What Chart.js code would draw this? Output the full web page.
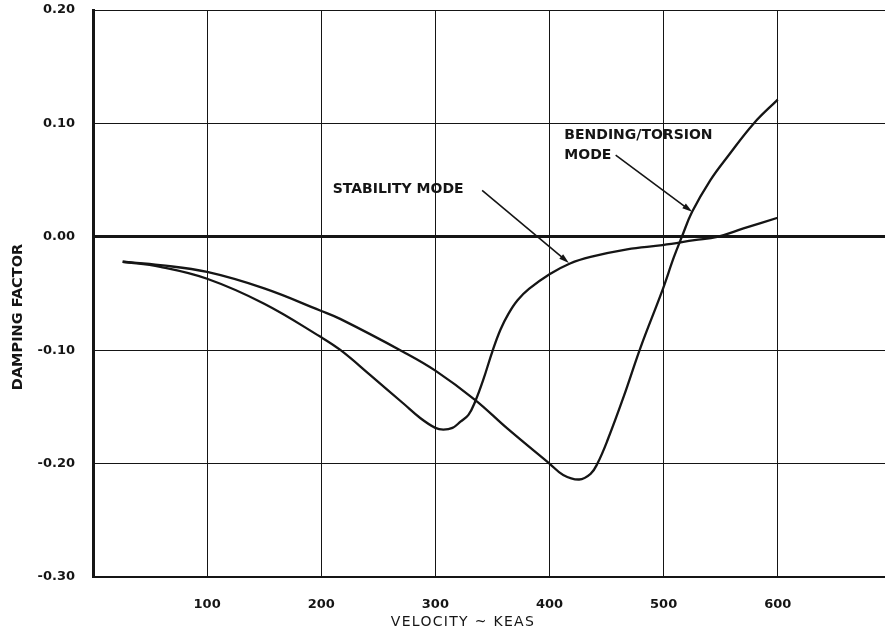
<html>
<head>
<script src="https://cdn.jsdelivr.net/npm/chart.js@4.4.1/dist/chart.umd.min.js"></script>
<style>
  body { margin: 0; background: #fff; }
</style>
</head>
<body>
<canvas id="damping" width="885" height="632"></canvas>
<script>
// values (velocity in KEAS, damping factor)
const stabilityV       = [26, 59, 100, 150, 199, 217, 243, 272, 287, 300, 307, 315, 322, 329, 335, 342, 350, 357, 364, 372, 382, 400, 418, 436, 468, 499, 527, 547, 570, 600];
const stabilityDamping = [-0.022, -0.0265, -0.037, -0.059, -0.088, -0.100, -0.122, -0.147, -0.160, -0.1685, -0.170, -0.1685, -0.163, -0.157, -0.145, -0.126, -0.101, -0.082, -0.068, -0.056, -0.046, -0.033, -0.0235, -0.0177, -0.011, -0.0073, -0.003, 0.000, 0.0074, 0.0168];

const bendingV       = [26, 59, 100, 150, 199, 217, 272, 300, 335, 363, 400, 412, 426, 436, 442, 451, 465, 480, 499, 509, 516, 525, 541, 556, 579, 600];
const bendingDamping = [-0.022, -0.025, -0.031, -0.0455, -0.065, -0.0726, -0.1015, -0.118, -0.144, -0.169, -0.200, -0.210, -0.214, -0.209, -0.200, -0.179, -0.141, -0.097, -0.047, -0.018, 0.000, 0.022, 0.050, 0.0706, 0.100, 0.121];

const yTicks = [0.2, 0.1, 0.0, -0.1, -0.2, -0.3];
const xTickLabels = [100, 200, 300, 400, 500, 600];

const INK = '#151515';
const FONT = '"DejaVu Sans", "Liberation Sans", sans-serif';

function toPoints(xs, ys) {
  return xs.map((x, i) => ({x: x, y: ys[i]}));
}

// callout texts with their leader arrows, in data units
const callouts = [
  {lines: ['STABILITY MODE'], at: [210, 0.042], from: [341, 0.041], to: [417, -0.023]},
  {lines: ['BENDING/TORSION', 'MODE'], at: [413, 0.0895], from: [458, 0.072], to: [525, 0.022]}
];

const calloutPlugin = {
  id: 'callouts',
  afterDraw(chart) {
    const ctx = chart.ctx;
    const x = chart.scales.x, y = chart.scales.y;
    ctx.save();
    ctx.fillStyle = INK;
    ctx.strokeStyle = INK;
    ctx.font = 'bold 14px ' + FONT;
    ctx.textBaseline = 'middle';
    ctx.textAlign = 'left';
    callouts.forEach(c => {
      const px = x.getPixelForValue(c.at[0]);
      const py = y.getPixelForValue(c.at[1]);
      c.lines.forEach((t, i) => ctx.fillText(t, px, py + i * 20));

      const x1 = x.getPixelForValue(c.from[0]), y1 = y.getPixelForValue(c.from[1]);
      const x2 = x.getPixelForValue(c.to[0]), y2 = y.getPixelForValue(c.to[1]);
      const ang = Math.atan2(y2 - y1, x2 - x1);
      const cos = Math.cos(ang), sin = Math.sin(ang);
      ctx.lineWidth = 1.6;
      ctx.beginPath();
      ctx.moveTo(x1, y1);
      ctx.lineTo(x2 - 6 * cos, y2 - 6 * sin);
      ctx.stroke();
      ctx.beginPath();
      ctx.moveTo(x2, y2);
      ctx.lineTo(x2 - 10 * cos + 3 * sin, y2 - 10 * sin - 3 * cos);
      ctx.lineTo(x2 - 10 * cos - 3 * sin, y2 - 10 * sin + 3 * cos);
      ctx.closePath();
      ctx.fill();
    });

    // axis titles
    ctx.textAlign = 'center';
    ctx.font = '14px ' + FONT;
    ctx.letterSpacing = '1.3px';
    ctx.fillText('VELOCITY ~ KEAS', 463, 622);
    ctx.translate(18, 317);
    ctx.rotate(-Math.PI / 2);
    ctx.font = 'bold 14.5px ' + FONT;
    ctx.letterSpacing = '0px';
    ctx.fillText('DAMPING FACTOR', 0, 0);
    ctx.restore();
  }
};

const lineStyle = {
  borderColor: INK,
  borderWidth: 2.3,
  pointRadius: 0,
  fill: false,
  tension: 0.4
};

new Chart(document.getElementById('damping'), {
  type: 'line',
  data: {
    datasets: [
      Object.assign({label: 'Stability mode', data: toPoints(stabilityV, stabilityDamping)}, lineStyle),
      Object.assign({label: 'Bending/torsion mode', data: toPoints(bendingV, bendingDamping)}, lineStyle)
    ]
  },
  options: {
    responsive: false,
    animation: false,
    layout: {padding: {top: 10, right: 0}},
    plugins: {legend: {display: false}, tooltip: {enabled: false}},
    scales: {
      x: {
        type: 'linear',
        min: 0,
        max: 694,
        afterFit: s => { s.height = 55; s.paddingLeft = 0; s.paddingRight = 0; },
        afterBuildTicks: s => { s.ticks = [0, ...xTickLabels].map(v => ({value: v})); },
        border: {color: INK, width: 2},
        grid: {color: INK, lineWidth: 1, drawTicks: false},
        ticks: {
          padding: 20,
          color: INK,
          font: {family: FONT, size: 13, weight: 'bold'},
          callback: v => xTickLabels.includes(v) ? String(v) : ''
        }
      },
      y: {
        min: -0.3,
        max: 0.2,
        afterFit: s => { s.width = 93; s.paddingTop = 0; s.paddingBottom = 0; },
        afterBuildTicks: s => { s.ticks = yTicks.map(v => ({value: v})); },
        border: {color: INK, width: 3},
        grid: {
          color: INK,
          drawTicks: false,
          lineWidth: c => (Math.abs(c.tick.value) < 1e-9 ? 3 : 1)
        },
        ticks: {
          padding: 18,
          color: INK,
          font: {family: FONT, size: 13, weight: 'bold'},
          callback: v => v.toFixed(2)
        }
      }
    }
  },
  plugins: [calloutPlugin]
});
</script>
</body>
</html>
